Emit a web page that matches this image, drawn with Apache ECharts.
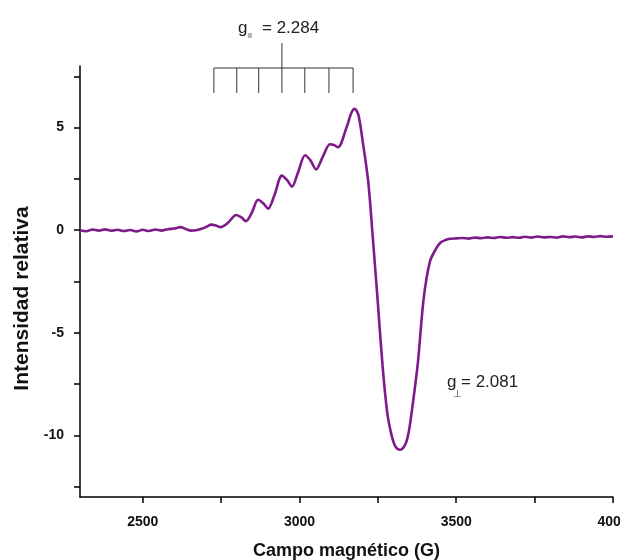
<!DOCTYPE html>
<html>
<head>
<meta charset="utf-8">
<title>EPR</title>
<script src="https://cdn.jsdelivr.net/npm/echarts@6/dist/echarts.min.js"></script>
<style>
  html, body { margin: 0; padding: 0; background: #fff; }
  #main { width: 620px; height: 560px; }
</style>
</head>
<body>
<div id="main"></div>
<script>
// campo magnético (G)
var field = [
  2300, 2320, 2340, 2360, 2380, 2400, 2420, 2440, 2460, 2480,
  2500, 2520, 2540, 2560, 2580, 2600, 2620, 2640, 2655, 2670,
  2690, 2705, 2718, 2735, 2748, 2772, 2798, 2815, 2829, 2848,
  2868, 2885, 2900, 2920, 2944, 2960, 2976, 2995, 3018, 3035,
  3053, 3075, 3097, 3110, 3123, 3150, 3165, 3176, 3188, 3201,
  3219, 3234, 3249, 3265, 3280, 3293, 3303, 3312, 3321, 3330,
  3340, 3349, 3362, 3378, 3396, 3416, 3436, 3450, 3464, 3480,
  3500, 3520, 3540, 3560, 3580, 3600, 3620, 3640, 3660, 3680,
  3700, 3720, 3740, 3760, 3780, 3800, 3820, 3840, 3860, 3880,
  3900, 3920, 3940, 3960, 3980, 4000
]
// intensidad relativa
var signal = [
  0.00, -0.05, 0.03, -0.02, 0.04, -0.03, 0.02, -0.04, 0.01, -0.06,
  0.02, -0.04, 0.03, -0.02, 0.05, 0.08, 0.15, 0.04, -0.02, 0.00,
  0.08, 0.18, 0.27, 0.22, 0.15, 0.36, 0.74, 0.62, 0.44, 0.85,
  1.48, 1.30, 1.05, 1.70, 2.66, 2.45, 2.12, 2.80, 3.65, 3.40,
  2.96, 3.60, 4.19, 4.15, 4.04, 5.00, 5.70, 5.92, 5.62, 4.40,
  2.41, -0.39, -3.35, -6.60, -8.90, -9.95, -10.45, -10.65, -10.70, -10.62,
  -10.35, -9.80, -8.40, -6.40, -3.35, -1.53, -0.89, -0.60, -0.49, -0.42,
  -0.40, -0.38, -0.41, -0.36, -0.39, -0.35, -0.38, -0.33, -0.37, -0.34,
  -0.37, -0.32, -0.36, -0.31, -0.35, -0.33, -0.36, -0.30, -0.34, -0.31,
  -0.35, -0.30, -0.33, -0.29, -0.32, -0.30
]
// posiciones de las líneas hiperfinas (g paralelo)
var stickFields = [2727, 2800, 2870, 2944, 3017, 3094, 3171]
var xLabels = [2500, 3000, 3500, 4000]
var xTicks = [2500, 2750, 3000, 3250, 3500, 3750, 4000]
var yLabels = [-10, -5, 0, 5]
var yTicks = [-12.5, -10, -7.5, -5, -2.5, 0, 2.5, 5, 7.5]

var points = field.map(function (g, i) { return [g, signal[i]] })

var chartDom = document.getElementById('main')
var myChart = echarts.init(chartDom)
var axisFont = { color: '#111', fontFamily: 'Liberation Sans', fontWeight: 'bold', fontSize: 14 }
var option = {
  animation: false,
  grid: { left: 80, right: 7, top: 66, bottom: 63, containLabel: false, outerBoundsMode: 'none' },
  xAxis: {
    type: 'value',
    min: 2300,
    max: 4000,
    name: 'Campo magnético (G)',
    nameLocation: 'middle',
    nameGap: 45,
    nameTextStyle: { color: '#111', fontFamily: 'Liberation Sans', fontWeight: 'bold', fontSize: 18 },
    axisLine: { onZero: false, lineStyle: { color: '#000', width: 1.5 } },
    axisTick: { show: true, length: 6, customValues: xTicks, lineStyle: { color: '#000', width: 1.5 } },
    axisLabel: Object.assign({ margin: 18, customValues: xLabels, formatter: function (v) { return String(v) } }, axisFont),
    splitLine: { show: false }
  },
  yAxis: {
    type: 'value',
    min: -13,
    max: 8,
    name: 'Intensidad relativa',
    nameLocation: 'middle',
    nameGap: 46,
    nameTextStyle: { color: '#111', fontFamily: 'Liberation Sans', fontWeight: 'bold', fontSize: 21, padding: [0, 34, 0, 0] },
    axisLine: { onZero: false, lineStyle: { color: '#000', width: 1.5 } },
    axisTick: { show: true, length: 6, customValues: yTicks, lineStyle: { color: '#000', width: 1.5 } },
    axisLabel: Object.assign({ margin: 16, customValues: yLabels }, axisFont),
    splitLine: { show: false }
  },
  series: [
    {
      type: 'line',
      data: points,
      smooth: 0.3,
      symbol: 'none',
      lineStyle: { color: '#7e1a8a', width: 2.6 }
    }
  ]
}
myChart.setOption(option)

// anotaciones: diagrama de barras hiperfinas y valores g
var px = stickFields.map(function (g) { return myChart.convertToPixel({ xAxisIndex: 0 }, g) })
var lineStyle = { stroke: '#333', lineWidth: 1 }
var graphics = []
var mid = px[3]
graphics.push({ type: 'line', shape: { x1: px[0], y1: 68, x2: px[px.length - 1], y2: 68 }, style: lineStyle })
graphics.push({ type: 'line', shape: { x1: mid, y1: 43, x2: mid, y2: 68 }, style: lineStyle })
px.forEach(function (x) {
  graphics.push({ type: 'line', shape: { x1: x, y1: 68, x2: x, y2: 93 }, style: lineStyle })
})
var annFont = '17px "Liberation Sans"'
graphics.push({ type: 'text', x: 238, y: 28, style: { text: 'g', font: annFont, fill: '#222', verticalAlign: 'middle' } })
graphics.push({ type: 'text', x: 248, y: 36, style: { text: 'II', font: '7px "Liberation Sans"', fill: '#222', verticalAlign: 'middle' } })
graphics.push({ type: 'text', x: 262, y: 28, style: { text: '= 2.284', font: annFont, fill: '#222', verticalAlign: 'middle' } })
graphics.push({ type: 'text', x: 447, y: 382, style: { text: 'g', font: annFont, fill: '#222', verticalAlign: 'middle' } })
graphics.push({ type: 'text', x: 453, y: 394, style: { text: '⊥', font: '10px "DejaVu Sans"', fill: '#444', verticalAlign: 'middle' } })
graphics.push({ type: 'text', x: 461, y: 382, style: { text: '= 2.081', font: annFont, fill: '#222', verticalAlign: 'middle' } })
myChart.setOption({ graphic: graphics })
</script>
</body>
</html>
